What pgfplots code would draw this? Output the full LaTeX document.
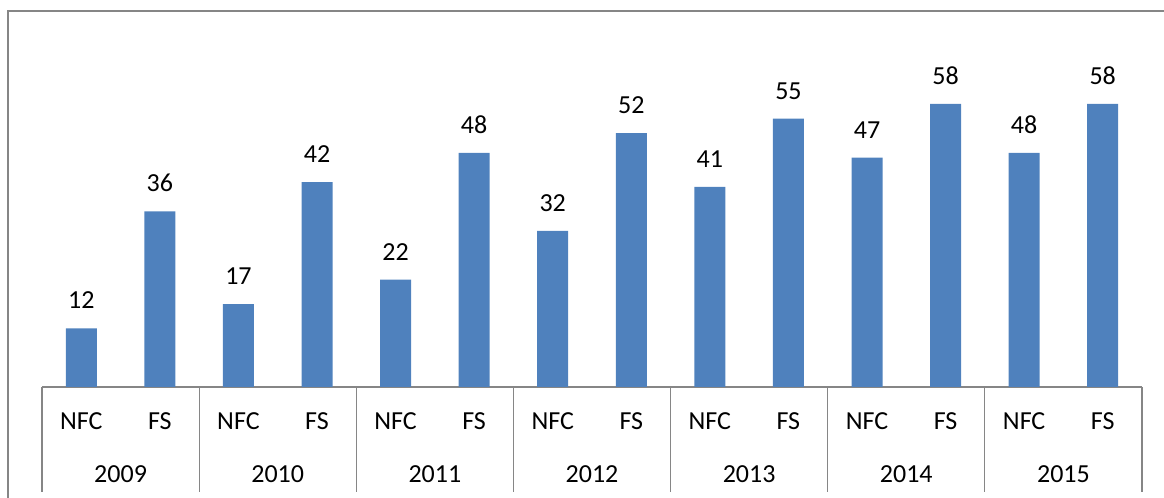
\documentclass[border=0pt]{standalone}
\usepackage{fontspec}
\setmainfont{Carlito}
\usepackage{pgfplots}
\pgfplotsset{compat=1.18}
\definecolor{barblue}{RGB}{79,129,189}
\definecolor{framegray}{RGB}{134,134,134}
\begin{document}
\begin{tikzpicture}
\clip (0,0) rectangle (873pt,373.5pt);
\draw[framegray, line width=1.2pt] (6pt,-5pt) -- (6pt,365.25pt) -- (880pt,365.25pt);
\begin{axis}[
  at={(31.5pt,83.25pt)}, anchor=south west,
  scale only axis, width=825pt, height=256.2pt,
  xmin=-0.5, xmax=13.5, ymin=0, ymax=70,
  axis x line*=bottom, axis y line=none,
  x axis line style={framegray, line width=0.9pt, -},
  xtick={0,...,13},
  xticklabels={NFC,FS,NFC,FS,NFC,FS,NFC,FS,NFC,FS,NFC,FS,NFC,FS},
  major tick length=0pt,
  xticklabel style={anchor=base, yshift=-32.25pt, font=\fontsize{19.5}{23}\selectfont, inner sep=0pt},
  ybar, bar width=23.25pt,
  nodes near coords,
  /pgf/number format/assume math mode=true,
  nodes near coords style={font=\fontsize{19.5}{23}\selectfont, anchor=base, inner sep=0pt, yshift=14.6pt},
  clip=false,
]
\addplot[fill=barblue, draw=none] coordinates {
(0,12) (1,36) (2,17) (3,42) (4,22) (5,48) (6,32) (7,52) (8,41) (9,55) (10,47) (11,58) (12,48) (13,58)};
\draw[framegray, line width=0.9pt] (axis cs:-0.5,0) -- ([yshift=-78.75pt]axis cs:-0.5,0);
\draw[framegray, line width=0.9pt] (axis cs:1.5,0) -- ([yshift=-78.75pt]axis cs:1.5,0);
\draw[framegray, line width=0.9pt] (axis cs:3.5,0) -- ([yshift=-78.75pt]axis cs:3.5,0);
\draw[framegray, line width=0.9pt] (axis cs:5.5,0) -- ([yshift=-78.75pt]axis cs:5.5,0);
\draw[framegray, line width=0.9pt] (axis cs:7.5,0) -- ([yshift=-78.75pt]axis cs:7.5,0);
\draw[framegray, line width=0.9pt] (axis cs:9.5,0) -- ([yshift=-78.75pt]axis cs:9.5,0);
\draw[framegray, line width=0.9pt] (axis cs:11.5,0) -- ([yshift=-78.75pt]axis cs:11.5,0);
\draw[framegray, line width=0.9pt] (axis cs:13.5,0) -- ([yshift=-78.75pt]axis cs:13.5,0);
\node[anchor=base, inner sep=0pt, font=\fontsize{19.5}{23}\selectfont] at ([yshift=-72pt]axis cs:0.5,0) {2009};
\node[anchor=base, inner sep=0pt, font=\fontsize{19.5}{23}\selectfont] at ([yshift=-72pt]axis cs:2.5,0) {2010};
\node[anchor=base, inner sep=0pt, font=\fontsize{19.5}{23}\selectfont] at ([yshift=-72pt]axis cs:4.5,0) {2011};
\node[anchor=base, inner sep=0pt, font=\fontsize{19.5}{23}\selectfont] at ([yshift=-72pt]axis cs:6.5,0) {2012};
\node[anchor=base, inner sep=0pt, font=\fontsize{19.5}{23}\selectfont] at ([yshift=-72pt]axis cs:8.5,0) {2013};
\node[anchor=base, inner sep=0pt, font=\fontsize{19.5}{23}\selectfont] at ([yshift=-72pt]axis cs:10.5,0) {2014};
\node[anchor=base, inner sep=0pt, font=\fontsize{19.5}{23}\selectfont] at ([yshift=-72pt]axis cs:12.5,0) {2015};
\end{axis}
\end{tikzpicture}
\end{document}
